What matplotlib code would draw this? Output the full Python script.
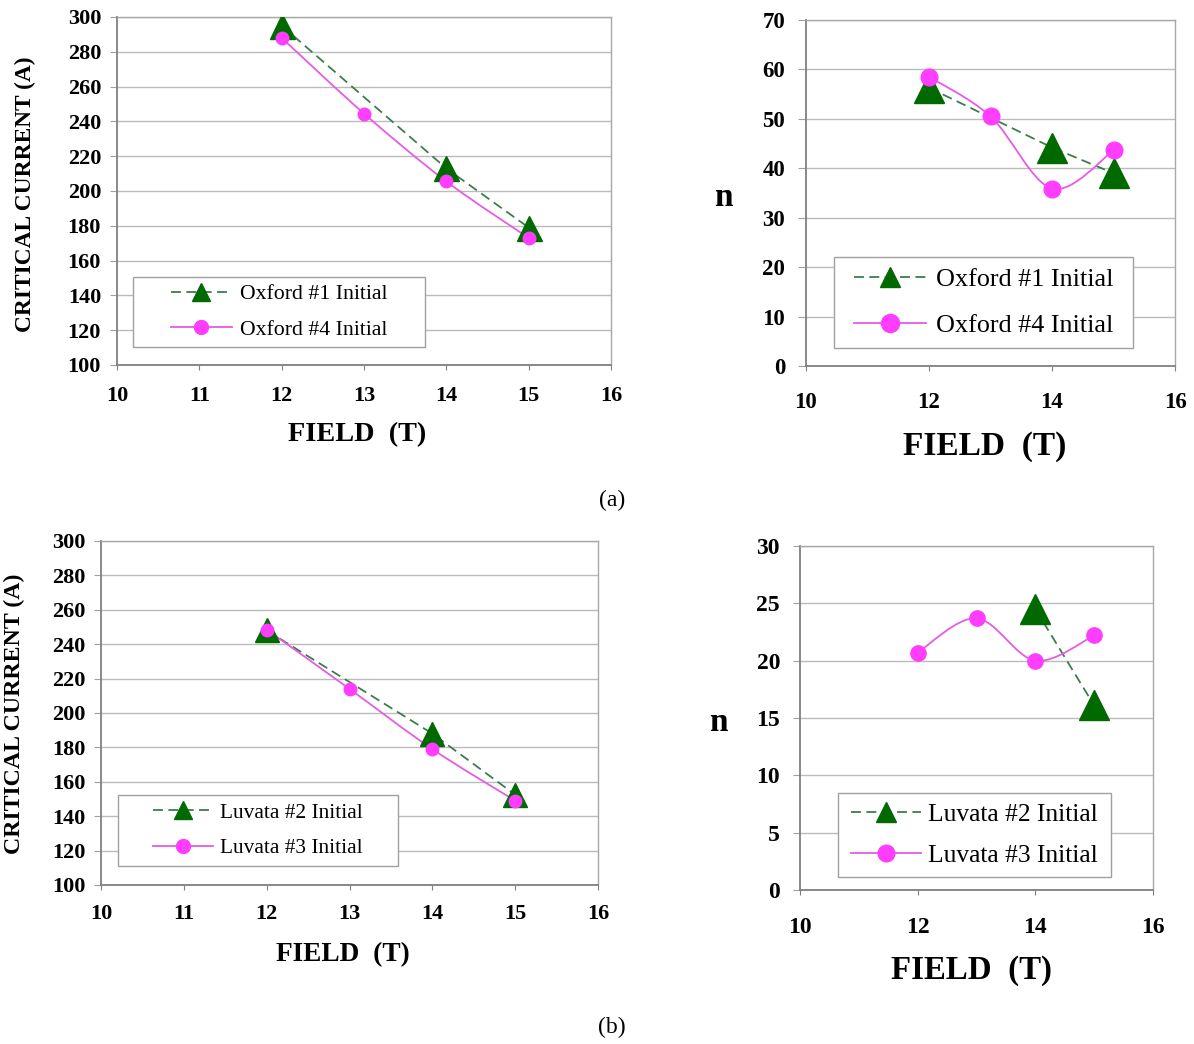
"""Critical current and n-value versus field for Oxford and Luvata strands"""

import numpy as np
import matplotlib
matplotlib.use('Agg')
import matplotlib.pyplot as plt
from matplotlib.path import Path
from matplotlib.patches import PathPatch, Rectangle
from matplotlib.lines import Line2D

plt.rcParams['font.family'] = ['Liberation Serif', 'DejaVu Serif']

# -----------------------------------------------------------------------------
# Data

# (a) Oxford strands
oxf1_field = [12, 14, 15]
oxf1_ic = [295, 213, 179]
oxf1_n = [56.3, 44.2, 39.0]

oxf4_field = [12, 13, 14, 15]
oxf4_ic = [288, 244.5, 205.5, 173]
oxf4_n = [58.5, 50.5, 35.9, 43.6]

# (b) Luvata strands
luv2_ic_field = [12, 14, 15]
luv2_ic = [248, 188, 152.5]
luv2_n_field = [14, 15]
luv2_n = [24.5, 16.1]

luv3_field = [12, 13, 14, 15]
luv3_ic = [248.5, 214, 179, 149]
luv3_n = [20.7, 23.7, 20.0, 22.2]

GREEN = '#006a00'
GREEN_LINE = '#3d7d4d'
PINK = '#ff3dff'
PINK_LINE = '#e55ce5'
DASH = (0, (5.5, 3))

# -----------------------------------------------------------------------------

def smooth_line(ax, x, y, *, color, lw=1.3):
    """Draw an Excel-style smoothed line (cubic Bezier through the points)"""
    x = np.asarray(x, dtype=float)
    y = np.asarray(y, dtype=float)
    pts = np.column_stack([x, y])
    verts = [pts[0]]
    codes = [Path.MOVETO]
    for i in range(len(pts) - 1):
        p0 = pts[i - 1] if i > 0 else pts[i]
        p1, p2 = pts[i], pts[i + 1]
        p3 = pts[i + 2] if i + 2 < len(pts) else pts[i + 1]
        verts += [p1 + (p2 - p0) / 6., p2 - (p3 - p1) / 6., p2]
        codes += [Path.CURVE4] * 3
    ax.add_patch(PathPatch(Path(verts, codes), fill=False, edgecolor=color,
                           lw=lw, zorder=3))


def style_axes(ax, *, xticks, yticks, ylim, tick_fs, xpad, ylen, ypad):
    ax.set_xlim(10, 16)
    ax.set_ylim(*ylim)
    ax.set_xticks(xticks)
    ax.set_yticks(yticks)
    ax.grid(axis='y', color='#bcbcbc', lw=1.0)
    ax.set_axisbelow(True)
    for side in ('left', 'bottom'):
        ax.spines[side].set_color('#808080')
        ax.spines[side].set_linewidth(1.3)
    for side in ('top', 'right'):
        ax.spines[side].set_color('#a8a8a8')
        ax.spines[side].set_linewidth(1.0)
    ax.tick_params(axis='x', direction='out', length=3.5, color='#808080',
                   pad=xpad, labelsize=tick_fs)
    ax.tick_params(axis='y', direction='out', length=ylen, color='#a0a0a0',
                   pad=ypad, labelsize=tick_fs)
    for lab in ax.get_xticklabels() + ax.get_yticklabels():
        lab.set_fontweight('bold')


def add_legend(ax, labels, *, box, fs, tri_ms, circ_ms, hlen, tpad, lspace):
    """Legend centred inside a plain grey box given in axes coordinates"""
    x0, y0, x1, y1 = box
    ax.add_patch(Rectangle((x0, y0), x1 - x0, y1 - y0, transform=ax.transAxes,
                           facecolor='white', edgecolor='#a0a0a0', lw=1.0,
                           zorder=4))
    handles = [
        Line2D([], [], color=GREEN_LINE, ls=DASH, lw=1.3, marker='^',
               ms=tri_ms, mfc=GREEN, mec=GREEN),
        Line2D([], [], color=PINK_LINE, lw=1.3, marker='o', ms=circ_ms,
               mfc=PINK, mec=PINK),
    ]
    leg = ax.legend(handles, labels, loc='center',
                    bbox_to_anchor=((x0 + x1) / 2, (y0 + y1) / 2),
                    borderaxespad=0, borderpad=0, fontsize=fs,
                    handlelength=hlen, handletextpad=tpad,
                    labelspacing=lspace, frameon=False)
    leg.set_zorder(5)


fig = plt.figure(figsize=(11.94, 10.44), dpi=100)
W, H = 1194., 1044.


def axes_px(left, top, right, bottom):
    return fig.add_axes([left / W, 1 - bottom / H, (right - left) / W,
                         (bottom - top) / H])


# -- (a) left: critical current, Oxford
ax = axes_px(117, 17, 611, 365)
style_axes(ax, xticks=range(10, 17), yticks=range(100, 301, 20),
           ylim=(100, 300), tick_fs=16, xpad=11.5, ylen=5, ypad=6.5)
ax.plot(oxf1_field, oxf1_ic, color=GREEN_LINE, ls=DASH, lw=1.3, zorder=3)
ax.plot(oxf1_field, oxf1_ic, ls='none', marker='^', ms=18, color=GREEN,
        zorder=4)
smooth_line(ax, oxf4_field, oxf4_ic, color=PINK_LINE)
ax.plot(oxf4_field, oxf4_ic, ls='none', marker='o', ms=9, color=PINK,
        zorder=4)
ax.set_xlabel('FIELD  (T)', fontsize=20.3, fontweight='bold', va='center')
ax.xaxis.set_label_coords(0.486, -0.201)
ax.set_ylabel('CRITICAL CURRENT (A)', fontsize=16.8, fontweight='bold',
              va='center')
ax.yaxis.set_label_coords(-0.186, 0.49)
add_legend(ax, ['Oxford #1 Initial', 'Oxford #4 Initial'],
           box=(0.0324, 0.0517, 0.6235, 0.2529), fs=15.7, tri_ms=13,
           circ_ms=10, hlen=2.8, tpad=0.37, lspace=0.71)

# -- (a) right: n value, Oxford
ax = axes_px(806, 20, 1175, 366)
style_axes(ax, xticks=range(10, 17, 2), yticks=range(0, 71, 10),
           ylim=(0, 70), tick_fs=16.5, xpad=15.5, ylen=6, ypad=9)
ax.plot(oxf1_field, oxf1_n, color=GREEN_LINE, ls=DASH, lw=1.3, zorder=3)
ax.plot(oxf1_field, oxf1_n, ls='none', marker='^', ms=21, color=GREEN,
        zorder=4)
smooth_line(ax, oxf4_field, oxf4_n, color=PINK_LINE)
ax.plot(oxf4_field, oxf4_n, ls='none', marker='o', ms=12, color=PINK,
        zorder=4)
ax.set_xlabel('FIELD  (T)', fontsize=24, fontweight='bold', va='center')
ax.xaxis.set_label_coords(0.485, -0.234)
ax.set_ylabel('n', fontsize=24, fontweight='bold', rotation=0,
              ha='center', va='center')
ax.yaxis.set_label_coords(-0.225, 0.488)
add_legend(ax, ['Oxford #1 Initial', 'Oxford #4 Initial'],
           box=(0.0759, 0.052, 0.886, 0.315), fs=18.8, tri_ms=14.5,
           circ_ms=13, hlen=2.75, tpad=0.38, lspace=0.85)

# -- (b) left: critical current, Luvata
ax = axes_px(101, 541, 598, 885)
style_axes(ax, xticks=range(10, 17), yticks=range(100, 301, 20),
           ylim=(100, 300), tick_fs=16, xpad=10.5, ylen=5, ypad=6.2)
ax.plot(luv2_ic_field, luv2_ic, color=GREEN_LINE, ls=DASH, lw=1.3, zorder=3)
ax.plot(luv2_ic_field, luv2_ic, ls='none', marker='^', ms=17, color=GREEN,
        zorder=4)
smooth_line(ax, luv3_field, luv3_ic, color=PINK_LINE)
ax.plot(luv3_field, luv3_ic, ls='none', marker='o', ms=9, color=PINK,
        zorder=4)
ax.set_xlabel('FIELD  (T)', fontsize=19.7, fontweight='bold', va='center')
ax.xaxis.set_label_coords(0.487, -0.203)
ax.set_ylabel('CRITICAL CURRENT (A)', fontsize=17.2, fontweight='bold',
              va='center')
ax.yaxis.set_label_coords(-0.175, 0.497)
add_legend(ax, ['Luvata #2 Initial', 'Luvata #3 Initial'],
           box=(0.0342, 0.0552, 0.5976, 0.2616), fs=15.4, tri_ms=12.5,
           circ_ms=10, hlen=2.8, tpad=0.3, lspace=0.72)

# -- (b) right: n value, Luvata
ax = axes_px(800, 546, 1153, 890)
style_axes(ax, xticks=range(10, 17, 2), yticks=range(0, 31, 5),
           ylim=(0, 30), tick_fs=17, xpad=16, ylen=5, ypad=9.4)
ax.plot(luv2_n_field, luv2_n, color=GREEN_LINE, ls=DASH, lw=1.3, zorder=3)
ax.plot(luv2_n_field, luv2_n, ls='none', marker='^', ms=22, color=GREEN,
        zorder=4)
smooth_line(ax, luv3_field, luv3_n, color=PINK_LINE)
ax.plot(luv3_field, luv3_n, ls='none', marker='o', ms=11, color=PINK,
        zorder=4)
ax.set_xlabel('FIELD  (T)', fontsize=23.7, fontweight='bold', va='center')
ax.xaxis.set_label_coords(0.487, -0.233)
ax.set_ylabel('n', fontsize=24, fontweight='bold', rotation=0,
              ha='center', va='center')
ax.yaxis.set_label_coords(-0.232, 0.488)
add_legend(ax, ['Luvata #2 Initial', 'Luvata #3 Initial'],
           box=(0.1076, 0.0378, 0.881, 0.282), fs=18.4, tri_ms=14.5,
           circ_ms=12, hlen=2.73, tpad=0.31, lspace=0.72)

# -- captions
fig.text(612 / W, 1 - 500 / H, '(a)', fontsize=17, ha='center', va='center')
fig.text(612 / W, 1 - 1027 / H, '(b)', fontsize=17, ha='center', va='center')

plt.savefig('out.png', dpi=100)
plt.close()
